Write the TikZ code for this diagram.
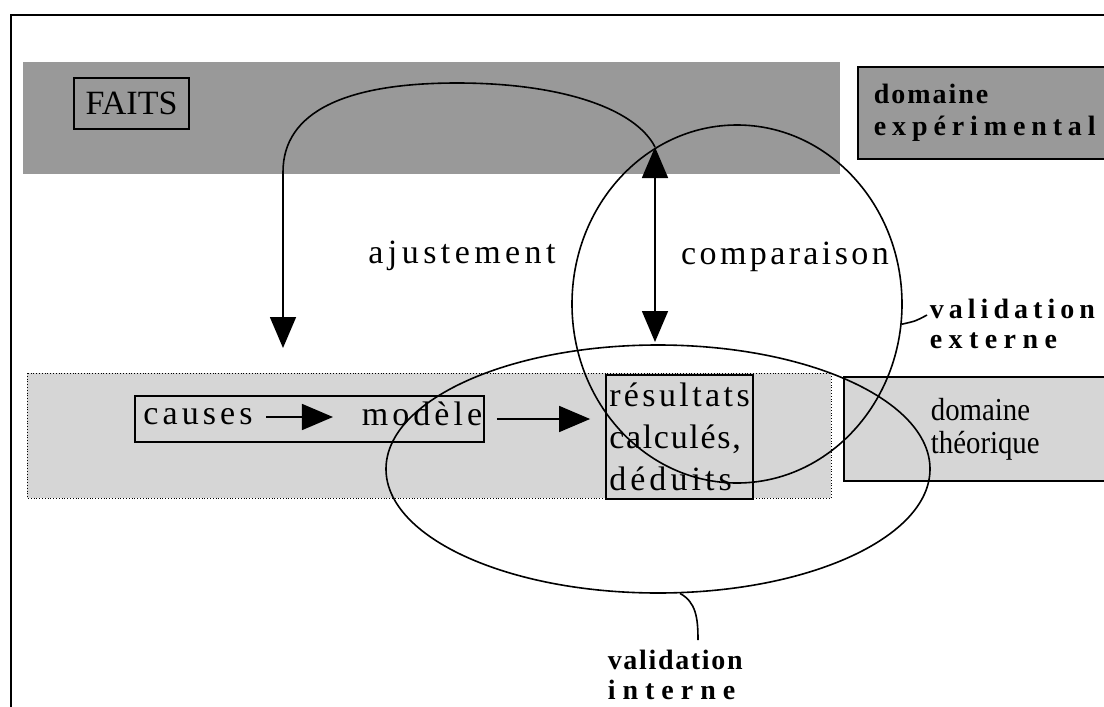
\documentclass[tikz,border=0pt]{standalone}
\usepackage{fontspec}
\setmainfont{Liberation Serif}
\usetikzlibrary{arrows.meta,shapes.geometric,positioning}

\definecolor{bandtop}{gray}{0.6}
\definecolor{bandlow}{gray}{0.84}
\newcommand{\tracked}[2]{{\addfontfeature{LetterSpace=#1}#2}}

\begin{document}
\begin{tikzpicture}[%
        x = 1pt,
        y = -1pt,
        line width = 1.6pt,
        > = {Triangle[length = 31pt, width = 26pt]},
        framebox/.style = {%
            draw = black,
            line width = 1.8pt
        },
        wordtext/.style = {%
            font = \fontsize{34}{38}\selectfont,
            inner sep = 0pt
        },
        tagtext/.style = {%
            font = \fontsize{28}{30}\selectfont\bfseries,
            inner sep = 0pt,
            align = left
        },
        loop/.style = {%
            draw = black,
            ellipse,
            inner sep = 0pt
        }
    ]

        \useasboundingbox (0,0) rectangle (1104,707);

        % Open frame round the figure.
        \draw[line width = 1.8pt] (11,707) -- (11,15) -- (1104,15);

        % Shaded bands for the two domains.
        \fill[bandtop] (23,62) rectangle (840,174);
        \filldraw[%
            fill = bandlow,
            draw = black,
            dotted,
            line width = 0.8pt
        ] (27,373) rectangle (831,498);

        % Boxes of the experimental band.
        \node[framebox, wordtext, minimum width = 115pt, minimum height = 51pt]
            (faits) at (131.5,103.5) {FAITS};
        \node[framebox, tagtext, fill = bandtop, font = \fontsize{28}{32}\selectfont\bfseries,
            anchor = north west, minimum height = 92pt, text width = 232pt,
            inner xsep = 16pt] (expdom) at (857,66)
            {\tracked{7}{domaine}\\\tracked{21}{expérimental}};

        % Boxes of the theoretical band.
        \node[framebox, minimum width = 349pt, minimum height = 46pt] (chain) at (309.5,419) {};
        \node[wordtext] (causes) at (198,417) {\tracked{12}{causes}};
        \node[wordtext, anchor = base] (modele) at (422,425) {\tracked{12}{modèle}};
        \node[framebox, wordtext, font = \fontsize{34}{42}\selectfont, align = left,
            minimum width = 147pt, minimum height = 124pt] (resultats) at (679.5,437)
            {\tracked{10}{résultats}\\\tracked{5}{calculés,}\\\tracked{12}{déduits}};
        \node[framebox, fill = bandlow,
            font = \fontsize{32}{33}\selectfont\addfontfeature{FakeStretch = 0.9},
            anchor = north west, minimum height = 104pt, text width = 180pt,
            inner xsep = 87pt, align = left] (theodom) at (843,376) {domaine\\théorique};

        % Arrows along the chain.
        \draw[->, shorten <= 13pt, shorten >= 28pt] (causes.east) -- (causes.east -| modele.west);
        \draw[->, shorten <= 12pt, shorten >= 15pt] (chain.east) -- (chain.east -| resultats.west);

        % Loop of the adjustment and double arrow of the comparison.
        \coordinate (cmptop) at (655,147);
        \coordinate (cmpbot) at (655,342);
        \coordinate (ajbot) at (283,348);
        \draw[->] (cmptop) .. controls (635,108) and (560,83) .. (457,83)
            .. controls (345,83) and (283,112) .. (283,172) -- (ajbot);
        \draw[<->] (cmptop) -- (cmpbot);

        \node[wordtext] (ajust) at (462,256) {\tracked{13}{ajustement}};
        \node[wordtext] (comp) at (785,257) {\tracked{10}{comparaison}};

        % The two validation loops.
        \node[loop, minimum width = 330pt, minimum height = 358pt] (extval) at (737,304) {};
        \node[loop, minimum width = 544pt, minimum height = 248pt] (intval) at (658,469) {};

        % Leaders to the validation labels.
        \coordinate (extend) at (927,315);
        \coordinate (intend) at (698,640);
        \draw (extval.-7) .. controls (916,321) .. (extend);
        \draw (intval.-80) .. controls (696,602) and (698,618) .. (intend);

        \node[tagtext, anchor = west] (valext) at (929,324)
            {\tracked{18}{validation}\\\tracked{23}{externe}};
        \node[tagtext, anchor = west] (valint) at (607,675)
            {\tracked{6}{validation}\\\tracked{25}{interne}};
    \end{tikzpicture}
\end{document}
